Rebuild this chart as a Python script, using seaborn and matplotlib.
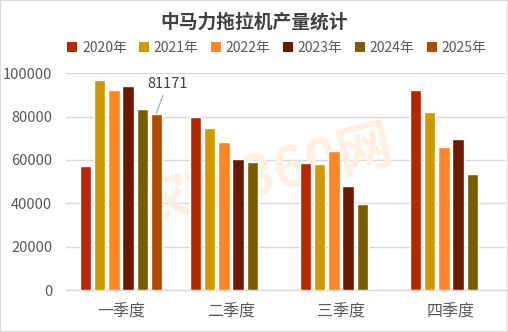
import matplotlib
matplotlib.use("Agg")
import matplotlib.pyplot as plt
import seaborn as sns
import pandas as pd
import numpy as np
from matplotlib.patches import Rectangle, Patch

quarters = ["一季度", "二季度", "三季度", "四季度"]
years = ["2020年", "2021年", "2022年", "2023年", "2024年", "2025年"]
v2020 = [57200, 80000, 58500, 92200]
v2021 = [96800, 74700, 58100, 82000]
v2022 = [92200, 68300, 64200, 65900]
v2023 = [94000, 60400, 47900, 69600]
v2024 = [83400, 59000, 39600, 53500]
v2025 = [81171, np.nan, np.nan, np.nan]
yticks = [0, 20000, 40000, 60000, 80000, 100000]
colors = ["#B22800", "#CC9900", "#FF8629", "#6B1800", "#7A5C00", "#B04A00"]
title = "中马力拖拉机产量统计"
label_value = 81171

series = [v2020, v2021, v2022, v2023, v2024, v2025]
rows = []
for y, vals in zip(years, series):
    for q, v in zip(quarters, vals):
        rows.append({"quarter": q, "year": y, "value": v})
df = pd.DataFrame(rows)

sns.set_theme(style="white")
plt.rcParams['font.family'] = ['Noto Sans CJK SC', 'DejaVu Sans']

fig = plt.figure(figsize=(5.08, 3.32), dpi=100)
ax = fig.add_axes([66/508, 42/332, 440/508, (290-73.3)/332])

sns.barplot(data=df, x="quarter", y="value", hue="year", hue_order=years,
            order=quarters, palette=colors, width=0.77, gap=0.2,
            saturation=1, ax=ax, legend=False, zorder=3, dodge=True)

# faint watermark behind the bars
ax.text(0.52, 0.47, "农机360网", transform=fig.transFigure, fontsize=40,
        fontweight='bold', color="#FEF1E4", rotation=14, ha='center',
        va='center', zorder=1)

ax.set_ylim(0, 100000)
ax.set_yticks(yticks)
ax.set_yticklabels([str(t) for t in yticks])
ax.set_xlabel("")
ax.set_ylabel("")
ax.yaxis.grid(True, color="#D9D9D9", linewidth=1, zorder=0)
ax.set_axisbelow(True)
for s in ["top", "right", "left"]:
    ax.spines[s].set_visible(False)
ax.spines["bottom"].set_color("#D9D9D9")
ax.spines["bottom"].set_linewidth(1)
ax.tick_params(axis='y', length=0, labelsize=10.5, colors="#595959", pad=10)
ax.tick_params(axis='x', length=0, labelsize=11.5, colors="#595959", pad=10)
ax.set_xlim(-0.5, 3.5)

# data label for 2025 Q1
bar25 = [p for p in ax.patches if abs(p.get_height() - label_value) < 1][0]
bx = bar25.get_x() + bar25.get_width() / 2
ax.annotate(str(label_value), xy=(bx, label_value + 400), xytext=(bx + 0.1, 92000),
            fontsize=10.5, color="#404040", ha='center', va='bottom', zorder=5,
            arrowprops=dict(arrowstyle='-', color="#A6A6A6", lw=0.8,
                            shrinkA=1, shrinkB=0))

fig.text(0.5, 0.934, title, fontsize=13.5, fontweight='bold', color="#404040",
         ha='center', va='center')

handles = [Patch(facecolor=c, edgecolor='none') for c in colors]
fig.legend(handles, years, loc='center', bbox_to_anchor=(0.545, 0.855), ncol=6,
           frameon=False, fontsize=10, handlelength=0.7, handleheight=0.7,
           handletextpad=0.35, columnspacing=0.9, labelcolor="#595959")

fig.patches.append(Rectangle((0, 0), 1, 1, transform=fig.transFigure, fill=False,
                             edgecolor="#D9D9D9", linewidth=1.5))

fig.savefig("out.png", dpi=100)
